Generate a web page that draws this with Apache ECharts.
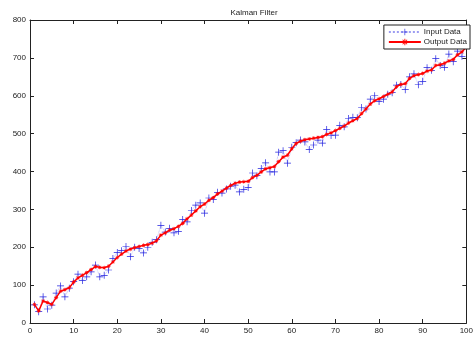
<!DOCTYPE html>
<html>
<head>
<meta charset="utf-8">
<title>Kalman Filter</title>
<script src="https://cdn.jsdelivr.net/npm/echarts@6/dist/echarts.min.js"></script>
<style>
    html, body { margin: 0; padding: 0; background: #fff; }
    #kalmanChart { width: 476px; height: 340px; }
</style>
</head>
<body>
<div id="kalmanChart"></div>
<script>
// 测量数据 (第 1..100 个采样点)
const inputData = [
    48, 30, 69, 37, 47, 79, 98, 69, 92, 109,
    129, 112, 122, 135, 153, 122, 126, 140, 170, 186,
    191, 202, 175, 200, 197, 185, 200, 213, 220, 258,
    240, 250, 238, 242, 273, 267, 297, 311, 317, 290,
    330, 326, 345, 343, 354, 361, 364, 346, 353, 358,
    396, 389, 408, 423, 399, 399, 451, 455, 422, 464,
    476, 483, 478, 458, 470, 483, 475, 511, 495, 496,
    522, 518, 540, 543, 542, 569, 565, 591, 600, 585,
    591, 604, 608, 628, 630, 616, 650, 658, 629, 638,
    674, 667, 698, 680, 675, 710, 690, 718, 704, 743
];

// 滤波结果
const outputData = [
    49, 32, 58, 54, 49, 67, 84, 88, 93, 108,
    119, 126, 133, 141, 149, 147, 146, 150, 161, 173,
    182, 190, 195, 199, 202, 205, 207, 211, 217, 232,
    238, 245, 249, 255, 263, 275, 285, 296, 307, 314,
    324, 331, 341, 348, 356, 363, 369, 372, 373, 374,
    384, 390, 399, 407, 410, 413, 426, 438, 443, 460,
    474, 480, 484, 486, 488, 490, 492, 498, 502, 508,
    514, 520, 528, 534, 540, 553, 565, 578, 587, 592,
    598, 604, 610, 624, 630, 632, 646, 653, 656, 659,
    665, 668, 680, 682, 686, 692, 696, 708, 716, 728
];

// 坐标轴刻度
const xTicks = { min: 0, max: 100, step: 10 };
const yTicks = { min: 0, max: 800, step: 100 };

const seriesNames = ['Input Data', 'Output Data'];

// 标记形状: '+' 和 '*'
const plusMark = 'path://M4.5,0h1v4.5h4.5v1h-4.5v4.5h-1v-4.5h-4.5v-1h4.5z';
const starMark = 'path://M4.3,0h1.4v10h-1.4z M0,4.3h10v1.4h-10z M1,2L2,1L9,8L8,9z M8,1L9,2L2,9L1,8z';

// 样本序号作为横坐标
function toPoints(values) {
    return values.map((v, i) => [i + 1, v]);
}

function makeAxis(cfg, pos, showLabel) {
    return {
        type: 'value',
        position: pos,
        min: cfg.min,
        max: cfg.max,
        interval: cfg.step,
        axisLine: { show: true, onZero: false, lineStyle: { color: '#222', width: 1 } },
        axisTick: { show: true, inside: true, length: 4, lineStyle: { color: '#222' } },
        axisLabel: {
            show: showLabel,
            color: '#222',
            fontSize: 8,
            fontFamily: 'Liberation Sans, Arial, sans-serif',
            margin: 4
        },
        splitLine: { show: false }
    };
}

function initKalmanChart() {
    const chart = echarts.init(document.getElementById('kalmanChart'), null, { renderer: 'canvas' });
    const option = {
        animation: false,
        backgroundColor: '#fff',
        title: {
            text: 'Kalman Filter',
            left: 249,
            textAlign: 'center',
            top: 4,
            textStyle: {
                fontSize: 8,
                fontWeight: 'normal',
                color: '#222',
                fontFamily: 'Liberation Sans, Arial, sans-serif'
            }
        },
        grid: {
            left: 30,
            right: 7,
            top: 20,
            bottom: 17
        },
        legend: {
            data: seriesNames,
            orient: 'vertical',
            right: 6,
            top: 25,
            itemWidth: 32,
            itemHeight: 8,
            itemGap: 2,
            padding: [3, 3, 3, 4],
            backgroundColor: '#fff',
            borderColor: '#222',
            borderWidth: 1,
            borderRadius: 0,
            textStyle: {
                fontSize: 8,
                color: '#222',
                fontFamily: 'Liberation Sans, Arial, sans-serif',
                padding: [0, 0, 0, -2]
            }
        },
        xAxis: [
            makeAxis(xTicks, 'bottom', true),
            makeAxis(xTicks, 'top', false)
        ],
        yAxis: [
            makeAxis(yTicks, 'left', true),
            makeAxis(yTicks, 'right', false)
        ],
        series: [{
            name: seriesNames[0],
            type: 'line',
            data: toPoints(inputData),
            symbol: plusMark,
            symbolSize: 7,
            showSymbol: true,
            showAllSymbol: true,
            itemStyle: { color: '#2424e0' },
            lineStyle: { type: 'dotted', width: 0.7, color: '#2424e0', opacity: 0.45 },
            z: 2
        }, {
            name: seriesNames[1],
            type: 'line',
            data: toPoints(outputData),
            symbol: starMark,
            symbolSize: 4,
            showSymbol: true,
            showAllSymbol: true,
            itemStyle: { color: '#ff0000' },
            lineStyle: { width: 1.5, color: '#ff0000' },
            z: 3
        }]
    };
    chart.setOption(option);
    window.addEventListener('resize', () => chart.resize());
}

document.addEventListener('DOMContentLoaded', initKalmanChart);
</script>
</body>
</html>
